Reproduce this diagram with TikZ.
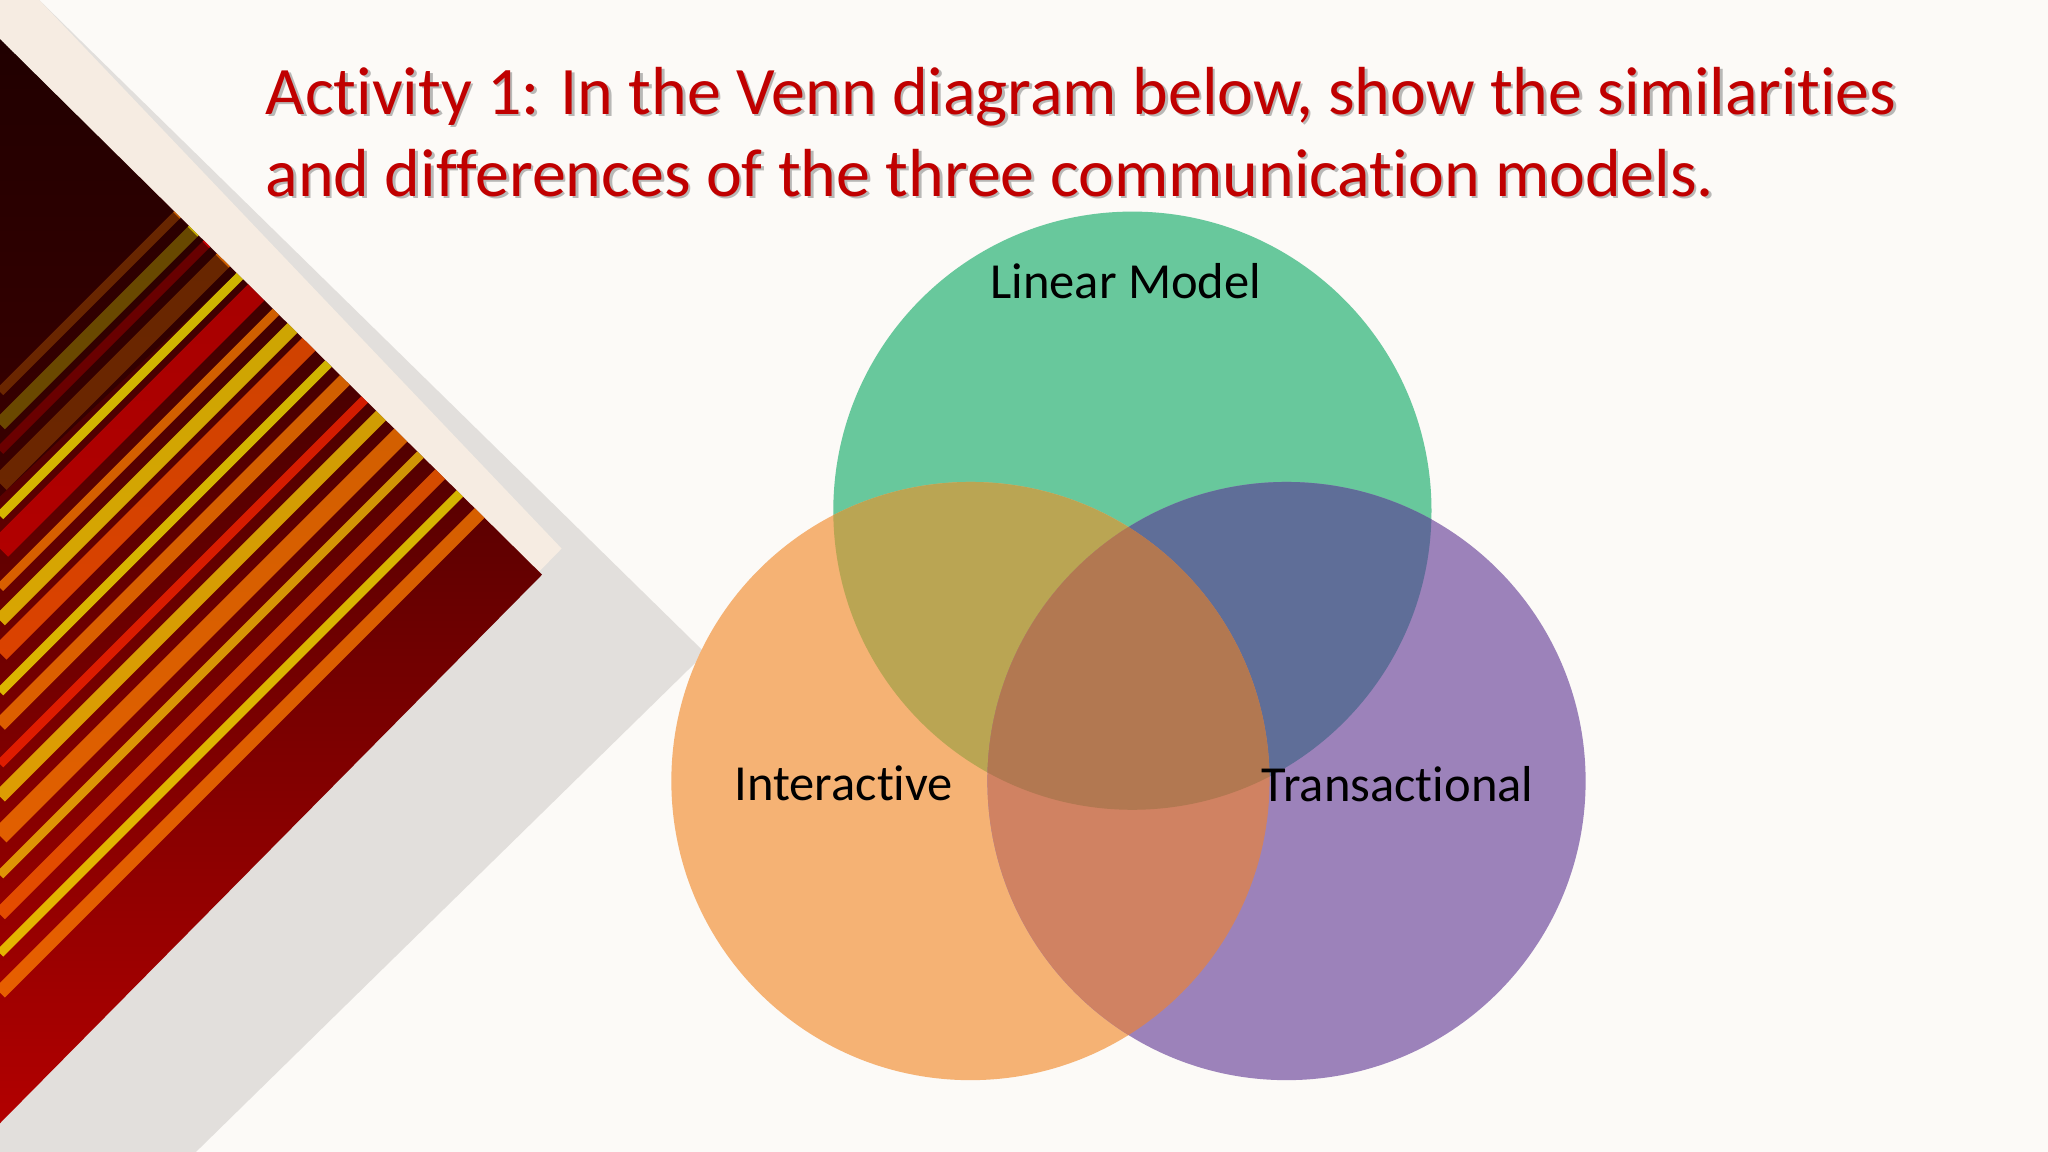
\documentclass[tikz,border=0pt]{standalone}
\usepackage{fontspec}
\setmainfont{Carlito}[Ligatures={NoCommon}]
\begin{document}
\begin{tikzpicture}[x=0.01cm,y=-0.01cm,
  lbl/.style={font=\fontsize{11pt}{13pt}\selectfont, text=black},
  ttl/.style={font=\fontsize{14.8pt}{17.8pt}\selectfont, align=left, anchor=north west}]
\definecolor{titlered}{HTML}{C00000}
\definecolor{cgreen}{HTML}{68C89C}
\definecolor{corange}{HTML}{F5B274}
\definecolor{cpurple}{HTML}{9C82BA}
\definecolor{go}{HTML}{BAA553}
\definecolor{gp}{HTML}{5F6E98}
\definecolor{op}{HTML}{D08262}
\definecolor{gop}{HTML}{B27851}
\useasboundingbox (0,0) rectangle (1568,882);
\fill[white!96!brown] (0,0) rectangle (1568,882);
% left decoration
\fill[brown!20!gray!25] (30,0) -- (540,500) -- (150,882) -- (0,882) -- (0,0) -- cycle;
\fill[brown!15!white] (0,0) -- (30,0) -- (430,420) -- (0,860)--cycle;
\begin{scope}
\clip (0,30) -- (415,440) -- (0,860) -- cycle;
\shade[left color=black!90!red, right color=red!70!black, shading angle=0] (0,30) rectangle (415,860);
\foreach \k/\c/\w in {0/orange/2,25/yellow/3,45/red/2,70/orange/4,95/yellow/2,120/red!80!black/5,150/orange/2,175/yellow!80!orange/3,200/orange!70!red/4,230/yellow/2,255/orange/3,285/red!70!orange/2,310/yellow!70!orange/3,340/orange/4,370/yellow!60!orange/2,400/orange!80!red/3,430/yellow/2,460/orange/3}{
  \draw[\c, line width=\w pt, opacity=0.75] (0,300+\k) -- (440,\k-140);
}
\fill[black!85!red, opacity=0.6] (0,30) -- (180,210) -- (0,380)--cycle;
\end{scope}
% title
\node[ttl, text=black!45, opacity=0.6] at (193,41) {Activity 1: In the Venn diagram below, show the similarities\\and differences of the three communication models.};
\node[ttl, text=titlered] (title) at (191,39) {Activity 1: In the Venn diagram below, show the similarities\\and differences of the three communication models.};
% venn
\coordinate (L) at (867,391);
\coordinate (I) at (743,598);
\coordinate (T) at (985,598);
\def\R{229}
\fill[cgreen] (L) circle (\R);
\fill[corange] (I) circle (\R);
\fill[cpurple] (T) circle (\R);
\begin{scope}\clip (L) circle (\R); \fill[go] (I) circle (\R); \end{scope}
\begin{scope}\clip (L) circle (\R); \fill[gp] (T) circle (\R); \end{scope}
\begin{scope}\clip (I) circle (\R); \fill[op] (T) circle (\R); \end{scope}
\begin{scope}\clip (L) circle (\R); \clip (I) circle (\R); \fill[gop] (T) circle (\R); \end{scope}
\node[lbl] (ll) at (862,215) {Linear Model};
\node[lbl] (il) at (646,600) {Interactive};
\node[lbl] (tl) at (1070,600) {Transactional};
\end{tikzpicture}
\end{document}
